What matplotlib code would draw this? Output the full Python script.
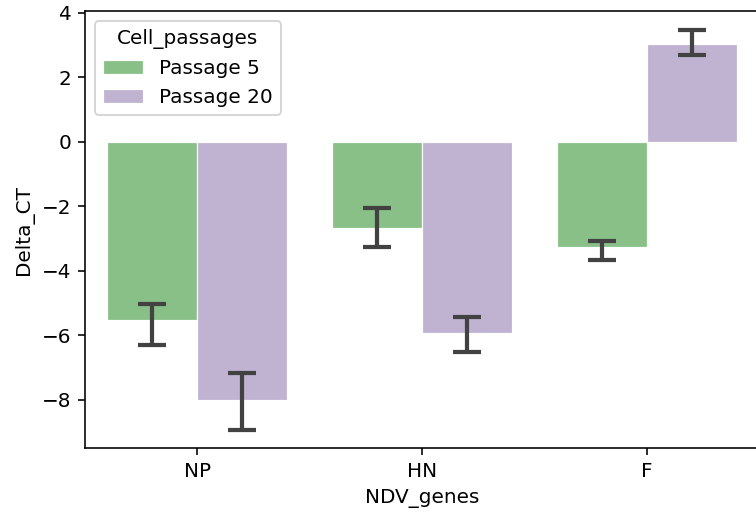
import numpy as np
import matplotlib
matplotlib.use("Agg")
import matplotlib.pyplot as plt

genes = ["NP", "HN", "F"]
series_names = ["Passage 5", "Passage 20"]
means = {
    "Passage 5": [-5.52, -2.67, -3.26],
    "Passage 20": [-8.00, -5.94, 3.03],
}
ci_low = {
    "Passage 5": [-6.29, -3.26, -3.66],
    "Passage 20": [-8.92, -6.52, 2.70],
}
ci_high = {
    "Passage 5": [-5.02, -2.06, -3.07],
    "Passage 20": [-7.18, -5.43, 3.45],
}
colors = {"Passage 5": "#88c087", "Passage 20": "#c0b3d2"}

DPI = 144
fig = plt.figure(figsize=(756 / DPI, 516 / DPI), dpi=DPI)
ax = fig.add_axes([85 / 756, (516 - 448.3) / 516, (759 - 85) / 756, (448.3 - 11) / 516])

x = np.arange(len(genes))
width = 0.4
for i, name in enumerate(series_names):
    pos = x + (i - 0.5) * width
    m = np.array(means[name])
    lo = m - np.array(ci_low[name])
    hi = np.array(ci_high[name]) - m
    ax.bar(pos, m, width=width, color=colors[name], edgecolor="white", linewidth=0.6, label=name)
    ax.errorbar(pos, m, yerr=[lo, hi], fmt="none", ecolor="#424242", elinewidth=2.1,
                capsize=7, capthick=2.1)

ax.set_xlim(-0.5, 2.5)
ax.set_ylim(-9.5, 4.05)
ax.set_xticks(x)
ax.set_xticklabels(genes)
ax.set_yticks([-8, -6, -4, -2, 0, 2, 4])
ax.set_yticklabels(["\u22128", "\u22126", "\u22124", "\u22122", "0", "2", "4"])
ax.set_xlabel("NDV_genes")
ax.set_ylabel("Delta_CT")
ax.legend(title="Cell_passages", loc="upper left")

fig.savefig("out.png", dpi=DPI)
